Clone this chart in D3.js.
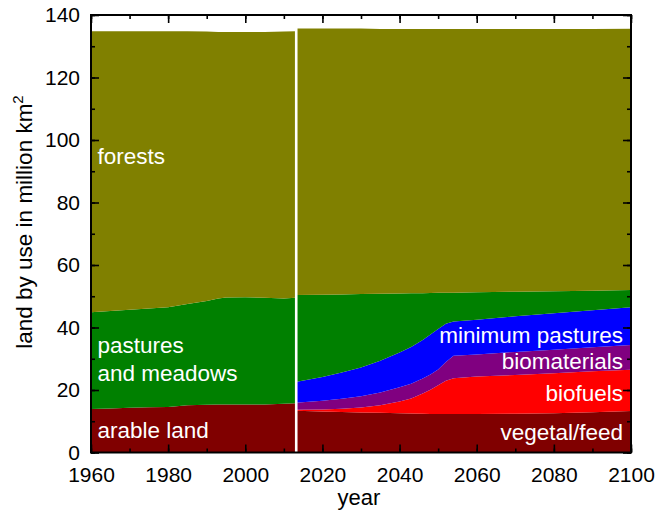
<!DOCTYPE html>
<html>
<head>
<meta charset="utf-8">
<script src="https://cdn.jsdelivr.net/npm/d3@7"></script>
<style>
  html, body { margin: 0; padding: 0; background: #fff; }
  svg { display: block; font-family: Arial, "Liberation Sans", sans-serif; }
</style>
</head>
<body>
<svg id="chart" width="657" height="517"></svg>
<script>
// Historical land use, 1960-2013 (million km²)
const histYears = [1960, 1965, 1970, 1975, 1980, 1985, 1990, 1993, 1995, 2000, 2005, 2010, 2013];
const arableLand = [13.9, 14.1, 14.3, 14.45, 14.6, 15.1, 15.3, 15.4, 15.4, 15.4, 15.4, 15.6, 15.8];
const pasturesMeadows = [31.0, 31.2, 31.4, 31.65, 31.9, 32.4, 33.2, 33.9, 34.2, 34.3, 34.1, 33.7, 33.7];
const forestsHist = [89.9, 89.5, 89.1, 88.7, 88.3, 87.3, 86.2, 85.3, 85.0, 84.9, 85.1, 85.4, 85.3];

// Scenario land use, 2013-2100 (million km²)
const projYears = [2013, 2020, 2025, 2030, 2035, 2040, 2043, 2046, 2048, 2050, 2052, 2054, 2060, 2070, 2080, 2090, 2100];
const vegetalFeed = [13.4, 13.1, 12.95, 12.8, 12.7, 12.55, 12.45, 12.4, 12.35, 12.3, 12.3, 12.3, 12.3, 12.4, 12.6, 12.9, 13.3];
const biofuels = [0.3, 0.7, 1.05, 1.6, 2.4, 3.75, 4.85, 6.5, 7.75, 9.2, 10.7, 11.5, 12.0, 12.4, 12.8, 13.1, 13.2];
const biomaterials = [2.2, 2.8, 3.2, 3.6, 4.1, 4.6, 4.7, 4.8, 4.9, 5.1, 6.0, 7.2, 7.1, 7.4, 7.5, 7.7, 7.9];
const minimumPastures = [6.7, 7.6, 8.4, 9.2, 10.2, 11.1, 11.8, 12.3, 12.8, 12.9, 12.2, 10.9, 11.1, 11.4, 11.7, 11.8, 12.1];
const pasturesProj = [27.8, 26.3, 25.0, 23.5, 21.4, 18.9, 17.15, 15.0, 13.25, 11.6, 9.9, 9.25, 8.8, 7.85, 7.0, 6.3, 5.5];
const forestsProj = [85.3, 85.2, 85.1, 85.0, 84.7, 84.6, 84.55, 84.5, 84.45, 84.4, 84.4, 84.35, 84.2, 84.05, 83.9, 83.7, 83.6];

const splitYear = 2013;
const xTickValues = [1960, 1980, 2000, 2020, 2040, 2060, 2080, 2100];
const yTickValues = [0, 20, 40, 60, 80, 100, 120, 140];

const colors = {
  arable: "#800000", pastures: "#008000", forests: "#808000",
  biofuels: "#ff0000", biomaterials: "#800080", minPastures: "#0000ff"
};

const svg = d3.select("#chart");
const margin = { left: 91, top: 15, right: 26, bottom: 64.5 };
const W = 657 - margin.left - margin.right;
const H = 517 - margin.top - margin.bottom;

const x = d3.scaleLinear().domain([1960, 2100]).range([0, W]);
const y = d3.scaleLinear().domain([0, 140]).range([H, 0]);

const g = svg.append("g").attr("transform", `translate(${margin.left},${margin.top})`);

const area = d3.area()
  .x(d => x(d.data.year))
  .y0(d => y(d[0]))
  .y1(d => y(d[1]));

function drawStack(years, series) {
  const rows = years.map((yr, i) => {
    const r = { year: yr };
    series.forEach(s => { r[s.key] = s.values[i]; });
    return r;
  });
  const stacked = d3.stack().keys(series.map(s => s.key))(rows);
  g.append("g").selectAll("path")
    .data(stacked)
    .join("path")
    .attr("fill", d => series.find(s => s.key === d.key).color)
    .attr("d", area);
}

drawStack(histYears, [
  { key: "arable", values: arableLand, color: colors.arable },
  { key: "pastures", values: pasturesMeadows, color: colors.pastures },
  { key: "forests", values: forestsHist, color: colors.forests }
]);

drawStack(projYears, [
  { key: "vegetal", values: vegetalFeed, color: colors.arable },
  { key: "biofuels", values: biofuels, color: colors.biofuels },
  { key: "biomaterials", values: biomaterials, color: colors.biomaterials },
  { key: "minPastures", values: minimumPastures, color: colors.minPastures },
  { key: "pastures", values: pasturesProj, color: colors.pastures },
  { key: "forests", values: forestsProj, color: colors.forests }
]);

// separator between history and scenario
g.append("line")
  .attr("x1", x(splitYear) + 0.8).attr("x2", x(splitYear) + 0.8)
  .attr("y1", y(0)).attr("y2", y(137))
  .attr("stroke", "#fff").attr("stroke-width", 2.6);

// in-plot labels
const labelStyle = sel => sel.attr("fill", "#fff").attr("font-size", 22.5);
const leftLabels = [
  { text: "forests", yv: 92.3 },
  { text: "pastures", yv: 31.7 },
  { text: "and meadows", yv: 22.9 },
  { text: "arable land", yv: 4.5 }
];
const rightLabels = [
  { text: "minimum pastures", yv: 35.1 },
  { text: "biomaterials", yv: 26.6 },
  { text: "biofuels", yv: 16.6 },
  { text: "vegetal/feed", yv: 4.0 }
];
leftLabels.forEach(l => {
  g.append("text").call(labelStyle)
    .attr("x", x(1960) + 6.5).attr("y", y(l.yv)).text(l.text);
});
rightLabels.forEach(l => {
  g.append("text").call(labelStyle)
    .attr("text-anchor", "end")
    .attr("x", x(2100) - 8).attr("y", y(l.yv)).text(l.text);
});

// axes with inward ticks on all four sides
const axisFont = 21;
const xMinor = d3.range(1960, 2101, 10);
const yMinor = d3.range(0, 141, 10);

function styleAxis(sel) {
  sel.select(".domain").remove();
  sel.selectAll("line").attr("stroke", "#000").attr("stroke-width", 1.6);
  sel.selectAll("text").attr("font-size", axisFont).attr("fill", "#000")
    .attr("font-family", "Arial, 'Liberation Sans', sans-serif");
}

// bottom
g.append("g").attr("transform", `translate(0,${H})`)
  .call(d3.axisBottom(x).tickValues(xMinor).tickSize(-4).tickFormat(""))
  .call(styleAxis);
g.append("g").attr("transform", `translate(0,${H})`)
  .call(d3.axisBottom(x).tickValues(xTickValues).tickSize(-8).tickFormat(d3.format("d")))
  .call(styleAxis)
  .selectAll("text").attr("dy", "0.71em").attr("y", 14.6);
// top
g.append("g")
  .call(d3.axisTop(x).tickValues(xMinor).tickSize(-4).tickFormat(""))
  .call(styleAxis);
g.append("g")
  .call(d3.axisTop(x).tickValues(xTickValues).tickSize(-8).tickFormat(""))
  .call(styleAxis);
// left
g.append("g")
  .call(d3.axisLeft(y).tickValues(yMinor).tickSize(-4).tickFormat(""))
  .call(styleAxis);
g.append("g")
  .call(d3.axisLeft(y).tickValues(yTickValues).tickSize(-8).tickFormat(d3.format("d")))
  .call(styleAxis)
  .selectAll("text").attr("x", -11);
// right
g.append("g").attr("transform", `translate(${W},0)`)
  .call(d3.axisRight(y).tickValues(yMinor).tickSize(-4).tickFormat(""))
  .call(styleAxis);
g.append("g").attr("transform", `translate(${W},0)`)
  .call(d3.axisRight(y).tickValues(yTickValues).tickSize(-8).tickFormat(""))
  .call(styleAxis);

// frame
g.append("rect")
  .attr("x", 0).attr("y", 0).attr("width", W).attr("height", H)
  .attr("fill", "none").attr("stroke", "#000").attr("stroke-width", 2);

// axis titles
svg.append("text")
  .attr("x", margin.left + W / 2 - 2).attr("y", 505)
  .attr("text-anchor", "middle").attr("font-size", 22).attr("fill", "#000")
  .text("year");

const yTitle = svg.append("text")
  .attr("transform", `translate(32,222) rotate(-90)`)
  .attr("text-anchor", "middle").attr("font-size", 22.5).attr("fill", "#000");
yTitle.append("tspan").text("land by use in million km");
yTitle.append("tspan").attr("font-size", 15).attr("dy", -9).text("2");
</script>
</body>
</html>
